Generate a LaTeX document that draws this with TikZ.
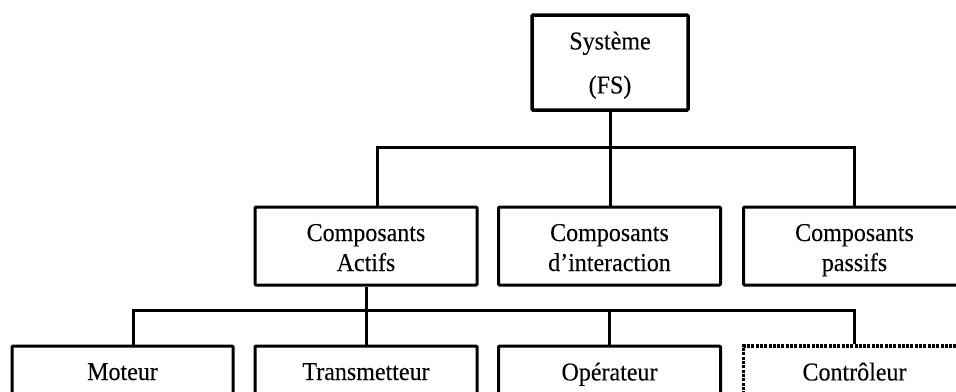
\documentclass[tikz,border=0pt]{standalone}
\usepackage{graphicx}
\usepackage{fontspec}
\setmainfont{Liberation Serif}[FakeBold=0.12]
\newcommand\mystrut{\rule[-6pt]{0pt}{23pt}}
\newcommand\vs[1]{\mystrut\scalebox{1}[1.07]{#1}}
\begin{document}
\begin{tikzpicture}[x=1pt,y=-1pt,
  box/.style={draw=black,line width=3pt,rounded corners=1pt,minimum height=78pt,minimum width=222pt,inner sep=0pt},
  dotbox/.style={box,dash pattern=on 3pt off 1.3pt,line width=3.4pt,rounded corners=0pt},
  txt/.style={inner sep=0pt,align=center,font=\fontsize{24}{30}\selectfont},
  conn/.style={draw=black,line width=3pt}]
\useasboundingbox (0,0) rectangle (956,391);
\clip (0,0) rectangle (956,391);
\fill[white] (0,0) rectangle (956,391);
% boxes
\node[box,minimum width=156pt,minimum height=95pt,line width=3.5pt] (sys) at (610,62.5) {};
\node[box] (actifs) at (366,246) {};
\node[box] (inter) at (609.5,246) {};
\node[box] (passifs) at (854.5,246) {};
\node[box,minimum width=221pt,minimum height=100pt] (moteur) at (122.5,396) {};
\node[box,minimum height=100pt] (trans) at (366,396) {};
\node[box,minimum height=100pt] (oper) at (609.5,396) {};
\node[dotbox,minimum height=100pt] (ctrl) at (854.5,396) {};
% texts
\node[txt,font=\fontsize{24}{44}\selectfont] (sysT) at (610,65.5) {\vs{Système}\\\vs{(FS)}};
\node[txt] (actifsT) at (366,250.5) {\vs{Composants}\\\vs{Actifs}};
\node[txt] (interT) at (609.5,250.5) {\vs{Composants}\\\vs{d’interaction}};
\node[txt] (passifsT) at (854.5,250.5) {\vs{Composants}\\\vs{passifs}};
\node[txt] (moteurT) at (122.5,374.5) {\vs{Moteur}};
\node[txt] (transT) at (366,374.5) {\vs{Transmetteur}};
\node[txt] (operT) at (609.5,374.5) {\vs{Opérateur}};
\node[txt] (ctrlT) at (854.5,374.5) {\vs{Contrôleur}};
% bars
\coordinate (bar1) at (0,147);
\coordinate (bar2) at (0,310);
% connectors
\draw[conn] (sys.south) -- (sys.south |- inter.north);
\draw[conn] ([xshift=11pt]actifs.north) |- (bar1 -| passifs.north) -- (passifs.north);
\draw[conn] ([xshift=10.5pt]moteur.north) |- (bar2 -| ctrl.north) -- (ctrl.north);
\draw[conn] (actifs.south) -- (trans.north);
\draw[conn] (bar2 -| oper.north) -- (oper.north);
\end{tikzpicture}
\end{document}
